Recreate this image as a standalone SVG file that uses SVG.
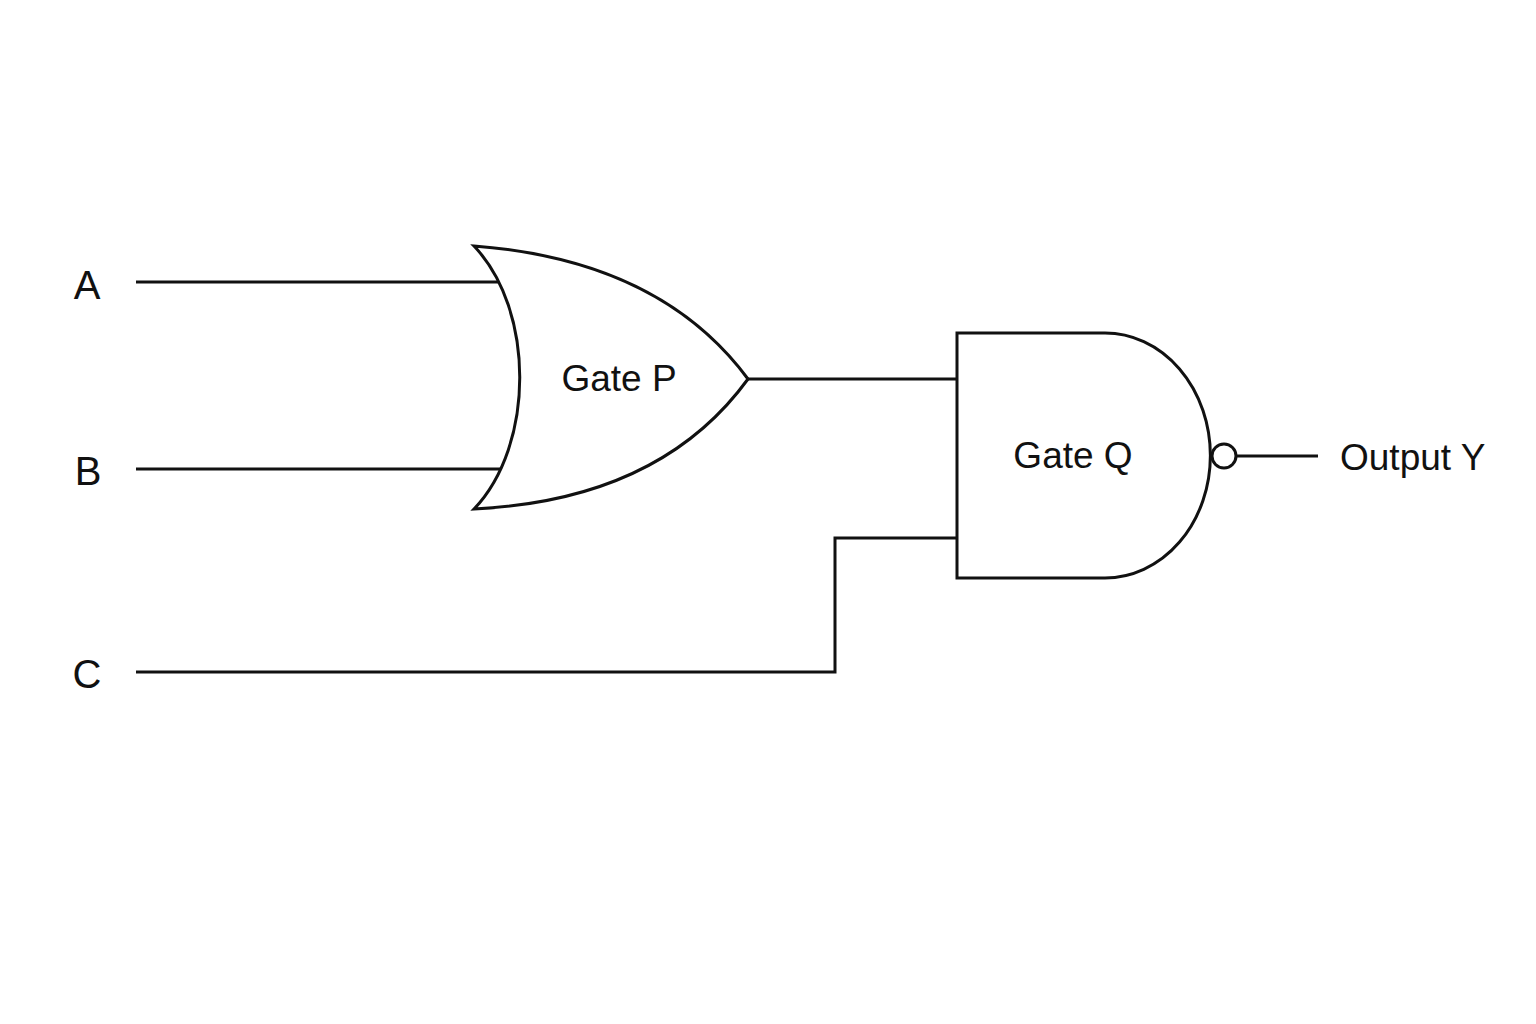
<svg xmlns="http://www.w3.org/2000/svg" width="1536" height="1024" viewBox="0 0 1536 1024">
<style>
.w{fill:none;stroke:#111;stroke-width:3}
.g{fill:#fff;stroke:#111;stroke-width:3}
.t{font-family:"Liberation Sans",Arial,sans-serif;fill:#111}
</style>
<rect width="1536" height="1024" fill="#fff"/>
<g id="connectors">
<path class="w" d="M136 282H500"/>
<path class="w" d="M136 469H500"/>
<path class="w" d="M136 672H835V538H957"/>
<path class="w" d="M748 379H957"/>
<path class="w" d="M1236 456H1318"/>
</g>
<g id="inA"><text class="t" x="87" y="299" font-size="40" text-anchor="middle">A</text></g>
<g id="inB"><text class="t" x="88" y="485" font-size="40" text-anchor="middle">B</text></g>
<g id="inC"><text class="t" x="87" y="688" font-size="40" text-anchor="middle">C</text></g>
<g id="gateP">
<path class="g" d="M474 246Q660 260 748 379Q660 500 474 509C535 445 535 310 474 246Z"/>
<text class="t" x="619" y="391" font-size="37" text-anchor="middle">Gate P</text>
</g>
<g id="gateQ">
<path class="g" d="M957 333H1105A105 122 0 0 1 1105 578H957Z"/>
<circle class="g" cx="1224" cy="456" r="12"/>
<text class="t" x="1073" y="468" font-size="37" text-anchor="middle">Gate Q</text>
</g>
<g id="outY"><text class="t" x="1340" y="470" font-size="37">Output Y</text></g>
</svg>
